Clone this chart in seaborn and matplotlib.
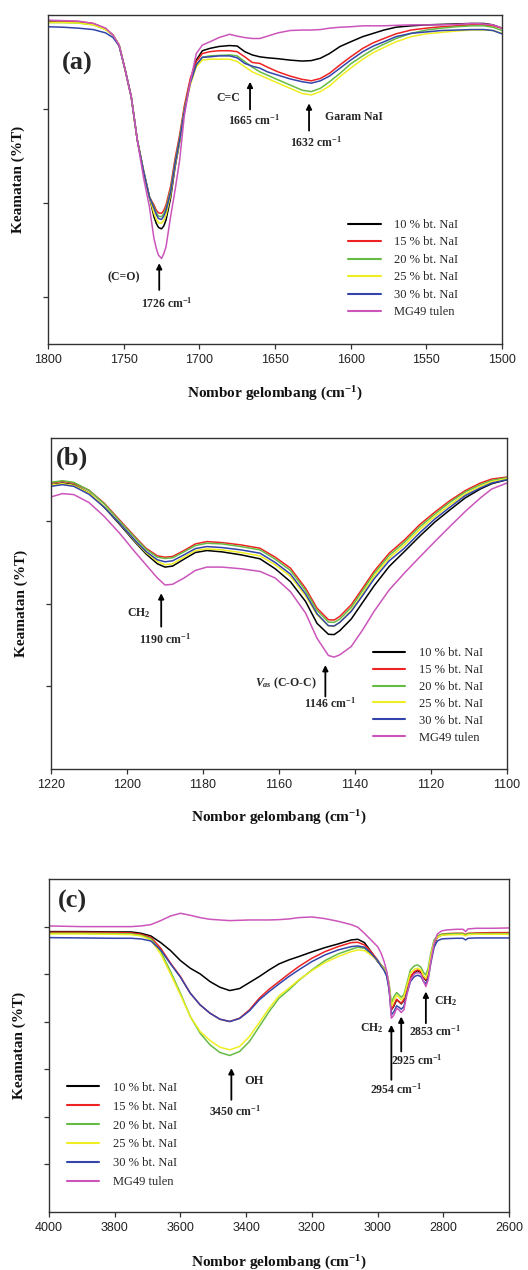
import pandas as pd
import seaborn as sns
import matplotlib.pyplot as plt
import numpy as np

# Label sampel dan warna garis
samples = ["10 % bt. NaI", "15 % bt. NaI", "20 % bt. NaI",
           "25 % bt. NaI", "30 % bt. NaI", "MG49 tulen"]
colors = ["#000000", "#ee2222", "#66bb44", "#eeee22", "#3344aa", "#cc55bb"]

# (a) kawasan C=O
wn_a = [1800, 1790, 1780, 1770, 1762, 1757, 1753, 1749, 1745, 1741, 1737, 1733, 1730,
        1728.5, 1727, 1725, 1723.5, 1722, 1719, 1716, 1713, 1710, 1706, 1702, 1698,
        1693, 1687, 1680, 1675, 1670, 1665, 1660, 1655, 1648, 1640, 1632, 1626, 1620,
        1614, 1607, 1600, 1592, 1585, 1578, 1570, 1560, 1550, 1540, 1530, 1520, 1512,
        1506, 1500]
a_10 = [68.7, 68.7, 68.5, 68.1, 67.1, 65.7, 63.6, 58.3, 52.6, 43.4, 37.0, 31.3, 27.1,
        25.7, 24.8, 24.5, 25.1, 26.4, 31.0, 37.7, 43.0, 49.8, 55.8, 60.4, 62.4,
        62.9, 63.3, 63.5, 63.4, 62.2, 61.5, 61.1, 60.9, 60.7, 60.4, 60.2, 60.3, 60.8,
        61.8, 63.3, 64.3, 65.4, 66.1, 66.8, 67.4, 67.7, 67.9, 68.0, 68.1, 68.2, 68.2,
        67.9, 67.2]
a_15 = [68.8, 68.7, 68.6, 68.2, 67.1, 65.7, 63.6, 58.3, 52.6, 43.4, 37.0, 31.3, 29.6,
        28.5, 27.9, 27.8, 28.4, 29.6, 33.5, 39.5, 44.5, 50.5, 56.5, 60.1, 61.8,
        62.2, 62.4, 62.4, 62.2, 61.1, 59.9, 59.7, 58.9, 57.9, 57.0, 56.3, 56.0, 56.5,
        57.6, 59.4, 61.1, 62.9, 64.1, 65.0, 66.0, 66.8, 67.2, 67.5, 67.7, 67.9, 67.9,
        67.7, 67.2]
a_20 = [68.4, 68.4, 68.3, 67.9, 66.9, 65.7, 63.6, 58.3, 52.6, 43.4, 37.0, 31.3, 29.2,
        28.0, 27.2, 27.1, 27.7, 28.9, 32.8, 38.8, 43.8, 49.8, 55.6, 59.4, 61.0,
        61.3, 61.4, 61.5, 61.3, 60.1, 58.9, 57.9, 57.2, 56.2, 55.1, 54.0, 53.7, 54.4,
        55.8, 57.6, 59.6, 61.3, 62.7, 63.8, 65.0, 66.1, 66.8, 67.2, 67.5, 67.7, 67.7,
        67.4, 66.7]
a_25 = [68.4, 68.4, 68.3, 67.9, 66.9, 65.7, 63.6, 58.3, 52.6, 43.4, 37.0, 31.3, 27.8,
        26.6, 25.8, 25.7, 26.3, 27.4, 31.7, 38.1, 43.0, 49.4, 55.1, 59.0, 60.4,
        60.6, 60.6, 60.6, 60.1, 59.0, 57.9, 57.2, 56.5, 55.5, 54.4, 53.3, 53.0, 53.7,
        54.9, 56.9, 58.7, 60.6, 62.0, 63.1, 64.3, 65.4, 66.0, 66.3, 66.6, 66.8, 66.8,
        66.7, 66.1]
a_30 = [67.5, 67.4, 67.2, 66.9, 66.2, 65.2, 63.4, 58.3, 52.6, 43.4, 37.0, 31.3, 28.9,
        27.6, 26.7, 26.5, 27.2, 28.4, 32.2, 38.4, 43.4, 49.4, 55.5, 59.4, 61.0,
        61.1, 61.3, 61.3, 60.9, 59.7, 59.1, 58.7, 57.9, 57.2, 56.4, 55.8, 55.5, 56.0,
        57.0, 58.7, 60.4, 62.2, 63.4, 64.3, 65.4, 66.1, 66.4, 66.7, 66.8, 66.9, 66.9,
        66.7, 66.0]
a_mg = [68.9, 68.8, 68.7, 68.2, 67.2, 65.7, 63.6, 58.3, 52.6, 43.4, 35.6, 29.2, 22.5,
        20.4, 18.9, 18.2, 19.2, 20.7, 27.1, 32.8, 39.1, 48.4, 55.8, 61.8, 63.6,
        64.3, 65.2, 65.9, 65.5, 65.2, 65.0, 65.0, 65.5, 66.2, 66.7, 66.8, 66.8, 66.9,
        67.2, 67.4, 67.5, 67.7, 67.7, 67.7, 67.8, 67.9, 67.9, 67.9, 68.0, 68.2, 68.1,
        67.9, 67.2]

# (b) kawasan C-O-C
wn_b = [1220, 1217, 1214, 1210, 1206, 1202, 1198, 1195, 1192, 1190, 1188, 1185, 1182,
        1179, 1175, 1170, 1165, 1161, 1157, 1153, 1150, 1147, 1145.5, 1144, 1141, 1138,
        1135, 1131, 1127, 1123, 1119, 1115, 1111, 1107, 1104, 1100]
b_10 = [85.9, 86.4, 85.9, 83.4, 79.1, 74.0, 68.7, 65.0, 62.0, 61.0, 61.3, 63.4, 65.4,
        66.0, 65.6, 64.7, 63.5, 60.5, 56.6, 50.6, 44.0, 40.7, 40.6, 41.8, 45.3, 50.3,
        55.3, 61.2, 65.7, 70.3, 74.6, 78.3, 81.9, 84.6, 86.2, 87.4]
b_15 = [86.4, 86.9, 86.4, 84.2, 80.3, 75.3, 70.3, 66.7, 64.4, 64.0, 64.2, 66.0, 68.0,
        68.7, 68.4, 67.7, 66.7, 64.0, 60.7, 54.6, 48.6, 45.1, 45.0, 46.1, 49.6, 54.6,
        59.7, 65.2, 69.2, 73.8, 77.6, 81.1, 84.1, 86.4, 87.6, 88.2]
b_20 = [86.6, 87.1, 86.6, 84.2, 80.1, 75.0, 70.0, 66.4, 64.0, 63.6, 63.8, 65.6, 67.5,
        68.2, 68.0, 67.2, 66.2, 63.4, 60.0, 53.9, 47.9, 44.4, 44.3, 45.3, 48.8, 53.9,
        59.0, 64.5, 68.5, 73.1, 77.0, 80.6, 83.7, 85.9, 87.2, 88.0]
b_25 = [85.8, 86.2, 85.7, 83.4, 79.3, 74.3, 69.0, 65.4, 62.7, 61.7, 62.0, 64.0, 66.0,
        66.5, 66.2, 65.4, 64.4, 61.7, 58.2, 52.3, 46.6, 43.2, 43.1, 44.3, 47.9, 52.9,
        58.2, 63.7, 67.7, 72.3, 76.3, 79.8, 83.1, 85.4, 86.8, 87.7]
b_30 = [85.4, 85.9, 85.4, 83.0, 79.1, 74.3, 69.2, 65.7, 63.2, 62.6, 62.9, 64.7, 66.6,
        67.2, 66.9, 66.2, 65.2, 62.4, 58.9, 52.9, 46.9, 43.3, 43.2, 44.3, 47.6, 52.4,
        57.4, 62.9, 66.7, 71.3, 75.5, 79.1, 82.6, 84.9, 86.4, 87.4]
b_mg = [82.2, 83.2, 82.9, 80.5, 76.3, 71.3, 65.7, 61.7, 57.7, 55.6, 55.8, 57.7, 60.0,
        61.0, 61.0, 60.5, 59.7, 57.7, 53.6, 47.1, 39.5, 34.3, 33.8, 34.5, 37.0, 42.0,
        47.6, 54.1, 59.2, 64.0, 68.7, 73.3, 77.8, 81.9, 84.6, 86.4]

# (c) kawasan OH dan CH
wn_c = [4000, 3900, 3800, 3750, 3720, 3690, 3660, 3630, 3600, 3570, 3540, 3510, 3480,
        3450, 3420, 3390, 3360, 3330, 3300, 3270, 3240, 3200, 3160, 3120, 3080, 3060,
        3040, 3020, 3000, 2990, 2980, 2972, 2965, 2958, 2950, 2942, 2935, 2928, 2920,
        2912, 2900, 2888, 2878, 2868, 2860, 2853, 2846, 2838, 2828, 2818, 2805, 2790,
        2760, 2740, 2732, 2725, 2700, 2650, 2600]
c_10 = [84.2, 84.2, 84.1, 84.1, 83.7, 82.9, 80.9, 78.5, 75.5, 73.2, 71.5, 69.2, 67.5,
        66.5, 67.1, 68.9, 70.7, 72.7, 74.5, 75.7, 76.7, 78.1, 79.4, 80.5, 81.7, 81.9,
        80.9, 78.2, 75.2, 74.2, 72.9, 71.2, 67.7, 60.7, 61.9, 63.7, 63.2, 62.5, 63.5,
        66.5, 70.5, 71.9, 72.5, 71.9, 70.5, 69.5, 71.5, 75.9, 80.5, 82.5, 83.2, 83.4,
        83.5, 83.5, 83.1, 83.5, 83.6, 83.6, 83.6]
c_15 = [84.0, 84.0, 83.9, 83.8, 83.4, 82.5, 79.2, 74.7, 70.7, 65.7, 62.2, 59.7, 57.9,
        57.2, 58.2, 60.7, 64.2, 66.9, 69.2, 71.5, 73.7, 76.2, 78.2, 79.7, 80.9, 81.0,
        80.2, 78.2, 75.7, 74.2, 73.2, 71.7, 67.7, 60.7, 62.2, 63.9, 63.2, 62.7, 63.7,
        66.7, 70.7, 72.2, 72.7, 72.2, 70.7, 69.7, 71.7, 76.2, 80.7, 82.7, 83.4, 83.6,
        83.7, 83.7, 83.3, 83.7, 83.8, 83.9, 83.9]
c_20 = [83.7, 83.7, 83.6, 83.5, 83.1, 82.1, 78.2, 72.2, 65.7, 58.7, 53.7, 50.2, 47.9,
        47.0, 48.2, 51.2, 55.7, 60.2, 64.2, 66.7, 69.5, 72.7, 75.5, 77.5, 78.9, 79.5,
        79.2, 77.5, 75.5, 74.2, 73.2, 71.9, 68.7, 62.7, 64.7, 65.9, 65.2, 64.5, 65.2,
        68.2, 72.7, 73.9, 74.2, 73.5, 71.9, 71.2, 73.2, 77.7, 81.7, 82.9, 83.4, 83.5,
        83.6, 83.6, 83.1, 83.6, 83.6, 83.6, 83.6]
c_25 = [83.5, 83.5, 83.4, 83.3, 82.9, 81.7, 77.5, 71.5, 65.2, 58.7, 54.2, 51.5, 49.5,
        48.7, 49.7, 52.7, 56.9, 61.2, 64.9, 67.2, 69.7, 72.5, 74.9, 76.7, 78.2, 78.7,
        78.5, 77.2, 75.4, 74.0, 72.9, 71.5, 68.2, 61.7, 63.7, 65.1, 64.5, 63.7, 64.5,
        67.5, 71.7, 72.9, 73.2, 72.7, 70.9, 70.2, 72.2, 76.9, 81.1, 82.5, 83.1, 83.2,
        83.3, 83.3, 82.9, 83.3, 83.4, 83.4, 83.4]
c_30 = [82.4, 82.3, 82.2, 82.2, 82.0, 81.4, 78.7, 74.5, 70.5, 65.7, 62.2, 59.7, 57.9,
        57.2, 58.1, 60.4, 63.7, 66.2, 68.5, 70.7, 72.7, 75.2, 77.2, 78.7, 79.7, 79.9,
        79.5, 77.7, 75.5, 73.9, 72.5, 70.7, 66.7, 59.2, 60.2, 61.9, 61.5, 60.9, 61.7,
        65.2, 69.2, 70.7, 71.1, 70.7, 69.2, 68.5, 70.2, 74.7, 79.5, 81.4, 82.0, 82.1,
        82.2, 82.2, 81.7, 82.2, 82.3, 82.3, 82.3]
c_mg = [85.9, 85.7, 85.7, 85.7, 85.9, 86.3, 87.5, 88.9, 89.7, 89.1, 88.4, 87.9, 87.7,
        87.5, 87.6, 87.7, 87.7, 87.7, 87.8, 88.0, 88.4, 88.6, 88.1, 87.3, 86.3, 85.5,
        83.7, 81.7, 79.7, 77.9, 75.2, 72.2, 67.7, 58.2, 59.2, 61.2, 60.7, 59.9, 60.7,
        64.7, 69.7, 71.5, 71.9, 71.5, 69.2, 67.7, 69.7, 75.2, 80.7, 83.5, 84.4, 84.7,
        84.9, 84.9, 84.2, 85.0, 85.2, 85.2, 85.3]

SERIF = "Liberation Serif"

sns.set_theme(style="ticks")
plt.rcParams.update({
    "font.family": "serif",
    "font.serif": [SERIF, "DejaVu Serif"],
    "mathtext.fontset": "custom",
    "mathtext.rm": SERIF,
    "mathtext.bf": SERIF + ":bold",
    "mathtext.it": SERIF + ":italic:bold",
    "axes.edgecolor": "#333333",
    "axes.linewidth": 1.0,
    "xtick.color": "#333333",
    "ytick.color": "#333333",
})


def long_df(wn, series):
    rows = []
    for name, vals in zip(samples, series):
        rows.append(pd.DataFrame({"wn": wn, "T": vals, "sampel": name}))
    return pd.concat(rows, ignore_index=True)


def draw_panel(ax, df, xlim, xticks, ylim, yticks, leg_xy, leg_space):
    sns.lineplot(data=df, x="wn", y="T", hue="sampel", hue_order=samples,
                 palette=dict(zip(samples, colors)), sort=False, estimator=None,
                 lw=1.1, ax=ax, legend=False)
    ax.set_xlim(*xlim)
    ax.set_ylim(*ylim)
    ax.set_xticks(xticks)
    ax.set_yticks(yticks)
    ax.set_yticklabels([])
    ax.tick_params(axis="both", direction="out", length=3.5, width=0.9,
                   labelsize=9, pad=4, labelfontfamily="Liberation Sans",
                   labelcolor="#222222")
    ax.set_xlabel(r"Nombor gelombang (cm$^{\mathbf{-1}}$)", fontsize=11,
                  fontweight="bold", color="#111111")
    ax.set_ylabel("Keamatan (%T)", fontsize=11, fontweight="bold", color="#111111")
    for s in ax.spines.values():
        s.set_visible(True)
    handles = [plt.Line2D([], [], color=c, lw=1.5) for c in colors]
    ax.legend(handles, samples, loc="upper left", bbox_to_anchor=leg_xy,
              frameon=False, fontsize=9, handlelength=2.6, handletextpad=1.1,
              labelspacing=leg_space, borderpad=0, borderaxespad=0)


def arrow(ax, x, y0, y1):
    ax.annotate("", xy=(x, y1), xytext=(x, y0),
                arrowprops=dict(arrowstyle="-|>", color="black", lw=1.3,
                                mutation_scale=8, shrinkA=0, shrinkB=0))


def note(ax, x, y, s, size=8.5):
    ax.text(x, y, s, ha="center", va="center", fontsize=size, fontweight="bold")


fig = plt.figure(figsize=(5.28, 12.7), dpi=100)

# panel (a)
ax_a = fig.add_axes([48 / 528, 1 - 344 / 1270, 454 / 528, 329 / 1270])
draw_panel(ax_a, long_df(wn_a, [a_10, a_15, a_20, a_25, a_30, a_mg]),
           (1800, 1500), range(1800, 1499, -50), (0, 70), [10, 30, 50],
           (0.661, 0.38), 0.44)
ax_a.xaxis.set_label_coords(0.5, -0.125)
ax_a.yaxis.set_label_coords(-0.05, 0.5)
note(ax_a, 1781, 59.7, "(a)", size=19)
arrow(ax_a, 1726.5, 11.5, 17.2)
note(ax_a, 1750, 14.2, "(C=O)")
note(ax_a, 1721.7, 8.7, r"1726 cm$^{\mathbf{-1}}$")
arrow(ax_a, 1666.5, 49.9, 55.8)
note(ax_a, 1681, 52.4, "C=C")
note(ax_a, 1664, 47.5, r"1665 cm$^{\mathbf{-1}}$")
arrow(ax_a, 1627.5, 45.4, 51.2)
note(ax_a, 1597.7, 48.4, "Garam NaI")
note(ax_a, 1623, 43.0, r"1632 cm$^{\mathbf{-1}}$")

# panel (b)
ax_b = fig.add_axes([51 / 528, 1 - 769 / 1270, 456 / 528, 331 / 1270])
draw_panel(ax_b, long_df(wn_b, [b_10, b_15, b_20, b_25, b_30, b_mg]),
           (1220, 1100), range(1220, 1099, -20), (0, 100), [25, 50, 75],
           (0.706, 0.368), 0.39)
ax_b.xaxis.set_label_coords(0.5, -0.12)
ax_b.yaxis.set_label_coords(-0.05, 0.5)
note(ax_b, 1214.5, 94.0, "(b)", size=19)
arrow(ax_b, 1191, 43.0, 53.1)
note(ax_b, 1196.9, 47.1, r"CH$_\mathbf{2}$")
note(ax_b, 1189.9, 39.3, r"1190 cm$^{\mathbf{-1}}$")
arrow(ax_b, 1147.8, 21.9, 31.4)
note(ax_b, 1158.3, 25.9, r"$V_{as}$ (C-O-C)")
note(ax_b, 1146.5, 19.7, r"1146 cm$^{\mathbf{-1}}$")

# panel (c)
ax_c = fig.add_axes([49 / 528, 1 - 1212 / 1270, 460 / 528, 333 / 1270])
draw_panel(ax_c, long_df(wn_c, [c_10, c_15, c_20, c_25, c_30, c_mg]),
           (4000, 2600), range(4000, 2599, -200), (0, 100),
           [100 / 7 * k for k in range(1, 7)], (0.039, 0.391), 0.55)
ax_c.xaxis.set_label_coords(0.5, -0.125)
ax_c.yaxis.set_label_coords(-0.05, 0.5)
note(ax_c, 3929, 93.2, "(c)", size=19)
arrow(ax_c, 3445, 33.7, 43.2)
note(ax_c, 3377, 39.2, "OH", size=9)
note(ax_c, 3435, 30.2, r"3450 cm$^{\mathbf{-1}}$")
arrow(ax_c, 2958, 39.7, 56.2)
note(ax_c, 2943, 36.7, r"2954 cm$^{\mathbf{-1}}$")
note(ax_c, 3019, 55.2, r"CH$_\mathbf{2}$")
arrow(ax_c, 2928, 48.2, 58.7)
note(ax_c, 2880, 45.7, r"2925 cm$^{\mathbf{-1}}$")
arrow(ax_c, 2853, 56.7, 66.2)
note(ax_c, 2825, 54.2, r"2853 cm$^{\mathbf{-1}}$")
note(ax_c, 2794, 63.2, r"CH$_\mathbf{2}$")

fig.savefig("out.png", dpi=100, facecolor="white")
